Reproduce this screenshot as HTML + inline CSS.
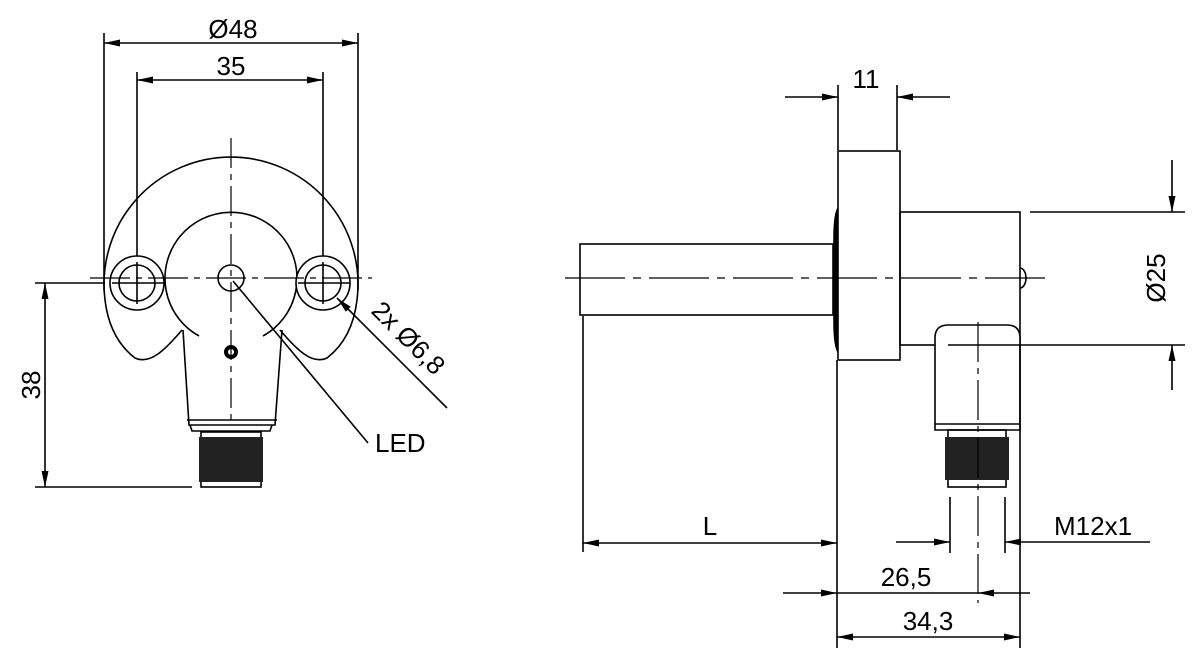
<!DOCTYPE html>
<html><head><meta charset="utf-8"><style>html,body{margin:0;padding:0;background:#fff}svg{display:block}</style></head><body>
<svg width="1200" height="663" viewBox="0 0 1200 663" xmlns="http://www.w3.org/2000/svg" font-family="Liberation Sans, sans-serif">
<defs>
<marker id="a" viewBox="0 0 16 7" refX="16" refY="3.5" markerWidth="16" markerHeight="7" markerUnits="userSpaceOnUse" orient="auto"><path d="M0,0L16,3.5L0,7z" fill="#000"/></marker>
</defs>
<g stroke="#000" stroke-width="1.6" fill="none">
<line x1="104" y1="33" x2="104" y2="290"/><line x1="358" y1="33" x2="358" y2="290"/>
<line x1="137" y1="72" x2="137" y2="310"/><line x1="323" y1="72" x2="323" y2="310"/>
<line x1="231" y1="43" x2="104" y2="43" marker-end="url(#a)"/><line x1="231" y1="43" x2="358" y2="43" marker-end="url(#a)"/>
<line x1="231" y1="80" x2="137" y2="80" marker-end="url(#a)"/><line x1="231" y1="80" x2="323" y2="80" marker-end="url(#a)"/>
<line x1="35" y1="283" x2="105" y2="283"/><line x1="35" y1="487" x2="192" y2="487"/>
<line x1="45" y1="385" x2="45" y2="283" marker-end="url(#a)"/><line x1="45" y1="385" x2="45" y2="487" marker-end="url(#a)"/>
<path d="M105,300 A127,127 0 1 1 357,300"/>
<path d="M105,300 C108,325 118,345 135,358 C150,365 165,350 182,330"/>
<path d="M357,300 C354,325 344,345 327,358 C312,365 297,350 280,330"/>
<path d="M199,336 A66,66 0 1 1 263,336"/>
<path d="M183,330 L189,425 L275,425 L282,330"/>
<line x1="187" y1="420" x2="277" y2="420"/>
<path d="M190,425 L192,431 L270,431 L272,425"/>
<rect x="201" y="432" width="60" height="55" fill="#fff"/>
<rect x="199" y="437" width="64" height="45" fill="#222" stroke="none"/>
<circle cx="137" cy="283" r="27" fill="#fff"/><circle cx="137" cy="283" r="18"/>
<circle cx="323" cy="283" r="27" fill="#fff"/><circle cx="323" cy="283" r="18"/>
<line x1="112" y1="283" x2="165" y2="283"/><line x1="298" y1="283" x2="350" y2="283"/>
<line x1="137" y1="262" x2="137" y2="304"/><line x1="323" y1="262" x2="323" y2="304"/>
<line x1="90" y1="278" x2="372" y2="278" stroke-dasharray="40,6,6,6" stroke-width="1.2"/>
<line x1="231" y1="138" x2="231" y2="425" stroke-dasharray="30,6,6,6" stroke-width="1.2"/>
<circle cx="231" cy="278" r="13"/>
<circle cx="231" cy="352" r="5" stroke-width="4"/>
<line x1="447" y1="408" x2="337" y2="298" marker-end="url(#a)"/>
<line x1="233" y1="281" x2="368" y2="443"/>
<rect x="580" y="244" width="253" height="71"/>
<path d="M838,208 Q834,215 834,240 L834,320 Q834,345 838,352 Z" fill="#000"/>
<rect x="838" y="151" width="62" height="209" fill="#fff"/>
<rect x="900" y="212" width="120" height="133"/>
<path d="M1020,268 A6,10 0 0 1 1020,288"/>
<path d="M935,430 L935,338 Q935,325 948,325 L1007,325 Q1020,325 1020,338 L1020,430 Z" fill="#fff"/>
<line x1="935" y1="424" x2="1020" y2="424"/>
<rect x="948" y="430" width="58" height="57"/>
<rect x="945" y="437" width="64" height="43" fill="#222" stroke="none"/>
<line x1="565" y1="278" x2="1045" y2="278" stroke-dasharray="60,8,8,8" stroke-width="1.2"/>
<line x1="978" y1="322" x2="978" y2="603" stroke-dasharray="40,6,6,6" stroke-width="1.2"/>
<line x1="948" y1="345" x2="1185" y2="345"/><line x1="1030" y1="212" x2="1185" y2="212"/>
<line x1="1172" y1="160" x2="1172" y2="212" marker-end="url(#a)"/><line x1="1172" y1="390" x2="1172" y2="345" marker-end="url(#a)"/>
<line x1="838" y1="85" x2="838" y2="150"/><line x1="897" y1="85" x2="897" y2="150"/>
<line x1="785" y1="97" x2="838" y2="97" marker-end="url(#a)"/><line x1="950" y1="97" x2="897" y2="97" marker-end="url(#a)"/>
<line x1="583" y1="316" x2="583" y2="552"/><line x1="837" y1="360" x2="837" y2="648"/>
<line x1="1020" y1="345" x2="1020" y2="648"/>
<line x1="710" y1="543" x2="583" y2="543" marker-end="url(#a)"/><line x1="710" y1="543" x2="837" y2="543" marker-end="url(#a)"/>
<line x1="950" y1="497" x2="950" y2="553"/><line x1="1005" y1="497" x2="1005" y2="553"/>
<line x1="896" y1="542" x2="950" y2="542" marker-end="url(#a)"/><line x1="1150" y1="542" x2="1005" y2="542" marker-end="url(#a)"/>
<line x1="783" y1="593" x2="837" y2="593" marker-end="url(#a)"/><line x1="1030" y1="593" x2="978" y2="593" marker-end="url(#a)"/>
<line x1="837" y1="593" x2="978" y2="593"/>
<line x1="928" y1="637" x2="837" y2="637" marker-end="url(#a)"/><line x1="928" y1="637" x2="1020" y2="637" marker-end="url(#a)"/>
</g>
<g font-size="26" fill="#000">
<text x="233" y="38" text-anchor="middle">Ø48</text>
<text x="231" y="75" text-anchor="middle">35</text>
<text x="40" y="385" text-anchor="middle" transform="rotate(-90 40 385)">38</text>
<text x="375" y="452">LED</text>
<text x="0" y="0" transform="translate(370,312) rotate(45)">2x  Ø6,8</text>
<text x="866" y="88" text-anchor="middle">11</text>
<text x="1165" y="278" text-anchor="middle" transform="rotate(-90 1165 278)">Ø25</text>
<text x="710" y="535" text-anchor="middle">L</text>
<text x="1054" y="535">M12x1</text>
<text x="906" y="586" text-anchor="middle">26,5</text>
<text x="928" y="630" text-anchor="middle">34,3</text>
</g>
</svg>
</body></html>
